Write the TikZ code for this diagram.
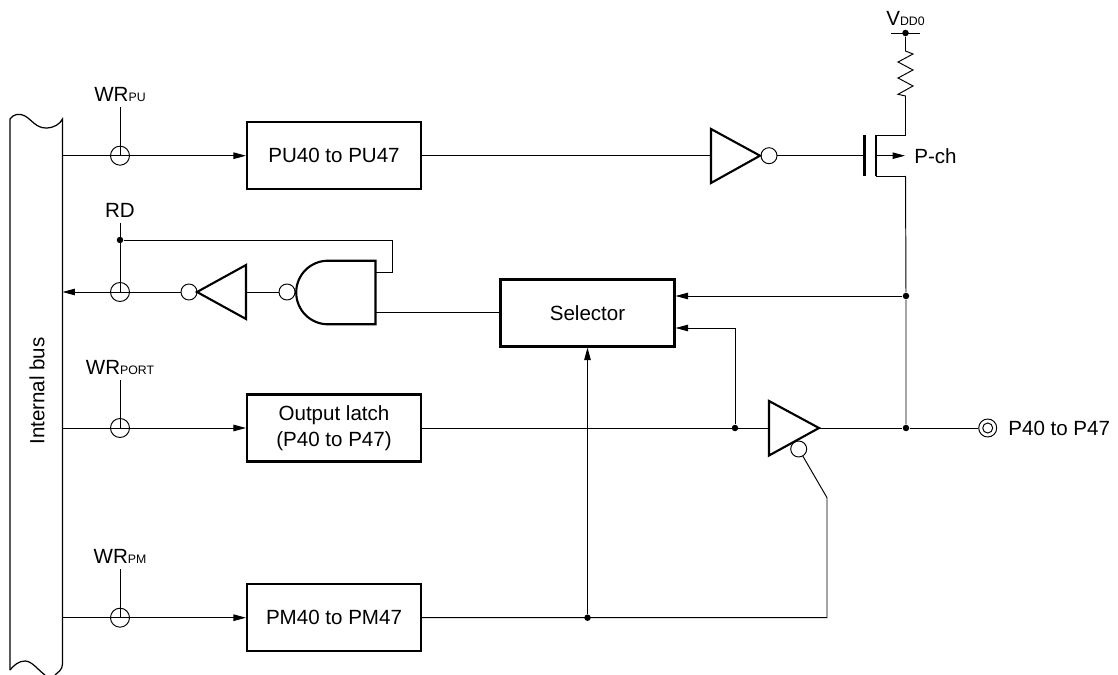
\documentclass[tikz,border=0pt]{standalone}
\usepackage{fontspec}
\setmainfont{Liberation Sans}
\usetikzlibrary{arrows.meta}
\newcommand{\sublabel}[2]{#1{\fontsize{7}{8}\selectfont #2}}
\begin{document}
\begin{tikzpicture}[
        x=0.02cm, y=-0.02cm,
        font=\fontsize{11.7}{15}\selectfont,
        wire/.style={line width=0.55pt},
        gate/.style={line width=1.2pt, line join=miter},
        flow/.style={wire, -{Stealth[length=0.25cm, width=0.13cm, inset=0pt]}},
        regbox/.style={draw, line width=1.2pt, minimum width=3.48cm, minimum height=1.34cm, align=center, inner sep=0pt},
        tap/.style={circle, draw, wire, minimum size=0.38cm, inner sep=0pt},
        bubble/.style={circle, draw, wire, minimum size=0.32cm, inner sep=0pt},
        dot/.style={circle, fill, minimum size=0.13cm, inner sep=0pt}
    ]
    \useasboundingbox (0,0) rectangle (1118,675);

    % internal bus
    \draw[wire, line width=0.7pt] (10,670) -- (10,119) .. controls (13,114) and (20,113) .. (25,116)
        .. controls (32,120) and (36,128) .. (46,128) .. controls (54,128) and (60,124) .. (62.5,119)
        -- (62.5,664) .. controls (62.5,670) and (58,672) .. (55,675);
    \draw[wire, line width=0.7pt] (10,670) .. controls (14,665) and (19,661) .. (25,661) .. controls (32,661) and (38,670) .. (45,675);
    \node[rotate=90] (busname) at (37,391) {Internal bus};
    \foreach \name/\y in {busu/155.7, busd/292, busl/428, busm/617.7} {
            \coordinate (\name) at (62.5,\y);
        }

    % registers
    \node[regbox] (pu) at (334,155.7) {PU40 to PU47};
    \node[regbox] (latch) at (334,428) {Output latch\\(P40 to P47)};
    \node[regbox] (pm) at (334,617.7) {PM40 to PM47};
    \node[regbox] (sel) at (587.5,313) {Selector};

    % write and read taps
    \foreach \name/\y/\top/\main/\sub in {wpu/155.7/107/WR/PU, rd/292/223/RD/, wport/428/380/WR/PORT, wpm/617.7/569/WR/PM} {
            \node[tap] (\name) at (120,\y) {};
            \coordinate (\name top) at (120,\top);
            \node[above=3pt, inner sep=0pt] (\name label) at (\name top) {\sublabel{\main}{\sub}};
            \draw[wire] (\name top) -- (\name.center);
        }
    \draw[flow] (busu) -- (pu);
    \draw[flow] (busl) -- (latch);
    \draw[flow] (busm) -- (pm);

    % read path
    \node[bubble] (rdinv) at (189,292) {};
    \node[bubble] (andinv) at (287,292) {};
    \coordinate (trileft) at (197,292);
    \coordinate (triright) at (246,292);
    \draw[gate] (trileft) -- (246,265) -- (246,319) -- cycle;
    \draw[gate] (375.5,260.7) -- (328,260.7) arc[start angle=270, end angle=90, radius=31.8] -- (375.5,324.3) -- cycle;
    \draw[flow] (rdinv) -- (busd);
    \draw[wire] (triright) -- (andinv);
    \node[dot] (rddot) at (120,240) {};
    \coordinate (andin) at (375.5,272);
    \coordinate (andout) at (375.5,312);
    \draw[wire] (rddot) -- (392,240) -- (392,272) -- (andin);
    \draw[wire] (andout) -- (andout -| sel.west);

    % output buffer
    \node[dot] (tapdot) at (735,428) {};
    \node[dot] (outdot) at (906,428) {};
    \node[dot] (feeddot) at (906,296) {};
    \node[dot] (pmdot) at (587.5,617.7) {};
    \node[bubble] (enbub) at (798.7,449) {};
    \coordinate (bufin) at (769,428);
    \coordinate (bufout) at (819,428);
    \draw[gate] (bufin) -- (769,401) -- (bufout) -- (769,455.5) -- cycle;
    \draw[wire] (latch) -- (bufin);
    \draw[wire] (bufout) -- (outdot);
    \draw[flow] (tapdot) -- (735,328) -- (sel.east |- 0,328);
    \draw[flow] (feeddot) -- (feeddot -| sel.east);
    \draw[flow] (pmdot) -- (sel.south);
    \draw[wire] (pm) -- (827,617.7) -- (827,497.7) -- (enbub);

    % output pin
    \node[circle, draw, wire, minimum size=0.36cm, inner sep=0pt] (pin) at (987.7,428) {};
    \node[circle, draw, wire, minimum size=0.2cm, inner sep=0pt] (pincore) at (pin.center) {};
    \node[inner sep=0pt, anchor=west] (pinname) at (1008,428) {P40 to P47};
    \draw[wire] (outdot) -- (pin);

    % pull-up
    \node[bubble] (puinv) at (769,155.7) {};
    \coordinate (invin) at (711,155.7);
    \draw[gate] (invin) -- (711,129) -- (760,155.7) -- (711,183) -- cycle;
    \draw[wire] (pu) -- (invin);
    \coordinate (fetgate) at (864.5,155.7);
    \coordinate (fetbody) at (875.7,155.7);
    \coordinate (fettop) at (905.5,135);
    \coordinate (fetbot) at (905.5,176);
    \coordinate (fetsrc) at (905,155.7);
    \draw[gate] (864.5,135) -- (864.5,176);
    \draw[gate] (875.7,135) -- (875.7,176);
    \draw[wire] (puinv) -- (fetgate);
    \draw[wire] (875.7,135) -- (fettop);
    \draw[wire] (875.7,176) -- (fetbot);
    \draw[flow] (fetbody) -- (fetsrc);
    \node[inner sep=0pt, anchor=west] (pch) at (914,155.7) {P-ch};
    \draw[wire] (fetbot) -- (feeddot) -- (outdot);

    % supply and resistor
    \node[dot] (vdd) at (905.5,33) {};
    \coordinate (vddl) at (891,33);
    \coordinate (vddr) at (920,33);
    \draw[wire] (vddl) -- (vddr);
    \node[above=4pt, inner sep=0pt] (vddname) at (vdd) {\sublabel{V}{DD0}};
    \draw[wire] (vdd) -- (905.5,51) -- (913,54) -- (898,62) -- (913,70) -- (898,78) -- (913,86) -- (898,94.3) -- (905.5,96) -- (fettop);
\end{tikzpicture}
\end{document}
